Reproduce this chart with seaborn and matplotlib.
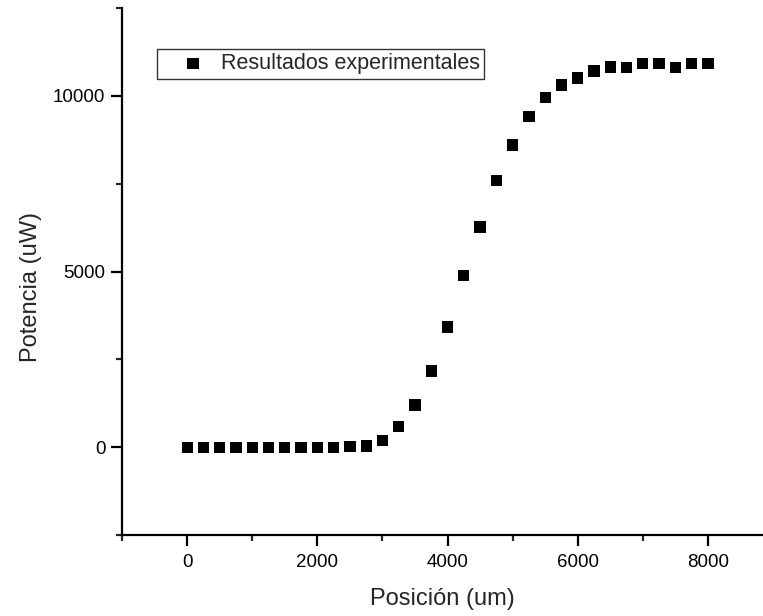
import numpy as np
import pandas as pd
import matplotlib
matplotlib.use("Agg")
import matplotlib.pyplot as plt
from matplotlib.ticker import MultipleLocator
import seaborn as sns

# Position along the scan (um) and measured power (uW)
posicion = [0, 250, 500, 750, 1000, 1250, 1500, 1750, 2000, 2250, 2500,
            2750, 3000, 3250, 3500, 3750, 4000, 4250, 4500, 4750, 5000,
            5250, 5500, 5750, 6000, 6250, 6500, 6750, 7000, 7250, 7500,
            7750, 8000]
potencia = [0, 0, 0, 0, 0, 0, 0, 0, 0, 0, 10,
            37, 180, 590, 1200, 2165, 3420, 4880, 6270, 7600, 8600,
            9410, 9950, 10310, 10505, 10710, 10820, 10815, 10930, 10930, 10815,
            10930, 10930]

df = pd.DataFrame({"Posición (um)": posicion, "Potencia (uW)": potencia})

sns.set_style("ticks")
plt.rcParams["font.family"] = ["Liberation Sans", "DejaVu Sans"]

fig = plt.figure(figsize=(7.63, 6.16), dpi=100)
ax = fig.add_axes([0.16, 0.1315, 0.84, 0.8555])

sns.scatterplot(data=df, x="Posición (um)", y="Potencia (uW)", ax=ax,
                marker="s", s=66, color="black", edgecolor="none",
                label="Resultados experimentales")

ax.set_xlim(-1000, 8846)
ax.set_ylim(-2500, 12500)
ax.xaxis.set_major_locator(MultipleLocator(2000))
ax.xaxis.set_minor_locator(MultipleLocator(1000))
ax.yaxis.set_major_locator(MultipleLocator(5000))
ax.yaxis.set_minor_locator(MultipleLocator(2500))

for side in ("top", "right"):
    ax.spines[side].set_visible(False)
for side in ("left", "bottom"):
    ax.spines[side].set_linewidth(1.6)
    ax.spines[side].set_color("black")

ax.tick_params(which="major", direction="out", length=8, width=1.6,
               labelsize=13.5, colors="black")
ax.tick_params(which="minor", direction="out", length=4.5, width=1.6)
ax.tick_params(axis="x", pad=6)
ax.tick_params(axis="y", pad=4)

ax.set_xlabel("Posición (um)", fontsize=17, labelpad=12)
ax.set_ylabel("Potencia (uW)", fontsize=17)
ax.yaxis.set_label_coords(-0.125, 0.47)

leg = ax.legend(loc="upper left", bbox_to_anchor=(0.0546, 0.922),
                borderaxespad=0.0,
                fontsize=15.5, frameon=True, fancybox=False,
                edgecolor="black", borderpad=0.2, handlelength=2.95,
                handletextpad=-0.2, markerscale=1.0)
leg.get_frame().set_linewidth(1.0)

fig.savefig("out.png", dpi=100)
